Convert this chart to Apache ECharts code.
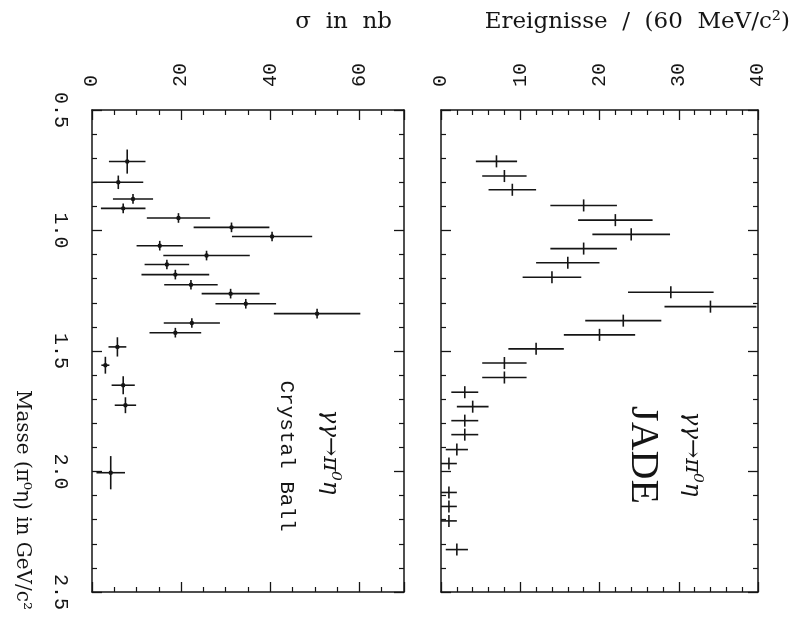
<!DOCTYPE html>
<html>
<head>
<meta charset="utf-8">
<script src="https://cdn.jsdelivr.net/npm/echarts@6/dist/echarts.min.js"></script>
<style>
  html, body { margin: 0; padding: 0; background: #fff; }
  #chart { width: 797px; height: 617px; }
</style>
</head>
<body>
<div id="chart"></div>
<script>
// Crystal Ball: cross section of γγ → π⁰η in nb versus π⁰η mass (GeV/c²)
const cbMass      = [0.714, 0.800, 0.869, 0.908, 0.948, 0.987, 1.025, 1.063, 1.104, 1.141, 1.183,
                     1.225, 1.262, 1.304, 1.345, 1.384, 1.424, 1.483, 1.559, 1.642, 1.725, 2.005];
const cbSigma     = [7.9, 5.9, 9.2, 7.0, 19.4, 31.3, 40.4, 15.2, 25.7, 16.8, 18.7,
                     22.2, 31.1, 34.5, 50.5, 22.4, 18.7, 5.7, 3.0, 7.0, 7.5, 4.2];
const cbSigmaErr  = [4.1, 5.6, 4.5, 5.0, 7.1, 8.5, 9.0, 5.2, 9.7, 5.0, 7.6,
                     6.0, 6.5, 6.8, 9.7, 6.3, 5.8, 2.0, 0.9, 2.6, 2.4, 3.2];
const cbMassErr   = [0.050, 0.028, 0.020, 0.020, 0.020, 0.020, 0.020, 0.020, 0.020, 0.020, 0.020,
                     0.020, 0.020, 0.020, 0.020, 0.020, 0.020, 0.040, 0.035, 0.037, 0.033, 0.069];

// JADE: events per 60 MeV/c² bin
const jadeMass    = [0.713, 0.774, 0.831, 0.896, 0.957, 1.016, 1.075, 1.134, 1.194, 1.256, 1.316,
                     1.374, 1.433, 1.491, 1.550, 1.610, 1.671, 1.731, 1.789, 1.847, 1.909, 1.967,
                     2.087, 2.145, 2.205, 2.324];
const jadeCounts  = [7, 8, 9, 18, 22, 24, 18, 16, 14, 29, 34,
                     23, 20, 12, 8, 8, 3, 4, 3, 3, 2, 1,
                     1, 1, 1, 2];
const jadeCountErr= [2.6, 2.8, 3.0, 4.2, 4.7, 4.9, 4.2, 4.0, 3.7, 5.4, 5.8,
                     4.8, 4.5, 3.5, 2.8, 2.8, 1.7, 2.0, 1.7, 1.7, 1.4, 1.0,
                     1.0, 1.0, 1.0, 1.4];
const jadeMassErr = [0.025, 0.025, 0.025, 0.025, 0.025, 0.025, 0.025, 0.025, 0.025, 0.025, 0.025,
                     0.025, 0.025, 0.025, 0.025, 0.025, 0.025, 0.025, 0.025, 0.025, 0.025, 0.025,
                     0.025, 0.025, 0.025, 0.025];

// tick labels
const massTicks = [0.5, 1.0, 1.5, 2.0, 2.5];
const cbTicks   = [0, 20, 40, 60];
const jadeTicks = [0, 10, 20, 30, 40];

const INK = '#151515';
const tickFont = { fontFamily: 'Liberation Mono', fontSize: 20, color: INK };

function rows(mass, val, dm, dv) {
  return mass.map((m, i) => [m, val[i], dm[i], dv[i]]);
}

// cross-shaped error bars: horizontal = value error, vertical = mass bin
function errorCross(withDot) {
  return function (params, api) {
    const m = api.value(0), v = api.value(1), dm = api.value(2), dv = api.value(3);
    const c = api.coord([v, m]);
    const l = api.coord([v - dv, m]);
    const r = api.coord([v + dv, m]);
    const t = api.coord([v, m - dm]);
    const b = api.coord([v, m + dm]);
    const style = { stroke: INK, lineWidth: 1.6 };
    const children = [
      { type: 'line', shape: { x1: l[0], y1: l[1], x2: r[0], y2: r[1] }, style: style },
      { type: 'line', shape: { x1: t[0], y1: t[1], x2: b[0], y2: b[1] }, style: style }
    ];
    if (withDot) {
      children.push({ type: 'circle', shape: { cx: c[0], cy: c[1], r: 2.2 }, style: { fill: INK } });
    }
    return { type: 'group', children: children };
  };
}

function valueAxis(grid, pos, max, interval, split, labels) {
  return {
    type: 'value', gridIndex: grid, position: pos, min: 0, max: max, interval: interval,
    axisLine: { show: true, onZero: false, lineStyle: { color: INK, width: 1.5 } },
    axisTick: { show: true, inside: true, length: 10, lineStyle: { color: INK, width: 1.3 } },
    minorTick: { show: true, splitNumber: split, length: 5, lineStyle: { color: INK, width: 1.2 } },
    splitLine: { show: false },
    axisLabel: labels ? Object.assign({
      show: true, rotate: -90, margin: 23, customValues: labels
    }, tickFont) : { show: false }
  };
}

function massAxis(grid, pos, labels) {
  return {
    type: 'value', gridIndex: grid, position: pos, min: 0.5, max: 2.5, interval: 0.5, inverse: true,
    axisLine: { show: true, onZero: false, lineStyle: { color: INK, width: 1.5 } },
    axisTick: { show: true, inside: true, length: 10, lineStyle: { color: INK, width: 1.3 } },
    minorTick: { show: true, splitNumber: 5, length: 5, lineStyle: { color: INK, width: 1.2 } },
    splitLine: { show: false },
    axisLabel: labels ? Object.assign({
      show: true, rotate: -90, margin: 22, customValues: labels,
      formatter: v => v.toFixed(1)
    }, tickFont) : { show: false }
  };
}

const chart = echarts.init(document.getElementById('chart'), null, { renderer: 'canvas' });

const SERIF = '"DejaVu Serif"';

function rotText(x, y, text, font, align) {
  return {
    type: 'text', x: x, y: y, rotation: -Math.PI / 2,
    style: Object.assign({
      text: text, align: align || 'center', verticalAlign: 'middle', fill: INK
    }, font)
  };
}

chart.setOption({
  animation: false,
  backgroundColor: '#fff',
  grid: [
    { left: 92, top: 110, width: 312, height: 482 },
    { left: 441, top: 110, width: 317, height: 482 }
  ],
  xAxis: [
    valueAxis(0, 'top', 70, 20, 4, cbTicks),
    valueAxis(0, 'bottom', 70, 20, 4, null),
    valueAxis(1, 'top', 40, 10, 5, jadeTicks),
    valueAxis(1, 'bottom', 40, 10, 5, null)
  ],
  yAxis: [
    massAxis(0, 'left', massTicks),
    massAxis(0, 'right', null),
    massAxis(1, 'left', null),
    massAxis(1, 'right', null)
  ],
  series: [
    {
      type: 'custom', name: 'Crystal Ball', xAxisIndex: 0, yAxisIndex: 0, clip: true,
      renderItem: errorCross(true),
      encode: { x: 1, y: 0 },
      data: rows(cbMass, cbSigma, cbMassErr, cbSigmaErr)
    },
    {
      type: 'custom', name: 'JADE', xAxisIndex: 2, yAxisIndex: 2, clip: true,
      renderItem: errorCross(false),
      encode: { x: 1, y: 0 },
      data: rows(jadeMass, jadeCounts, jadeMassErr, jadeCountErr)
    }
  ],
  graphic: [
    // value-axis titles
    {
      type: 'text', x: 392, y: 22,
      style: {
        text: 'σ  in  nb', align: 'right', verticalAlign: 'middle', fill: INK,
        font: '23px ' + SERIF
      }
    },
    {
      type: 'text', x: 790, y: 22,
      style: {
        text: 'Ereignisse  /  (60  MeV/c²)', align: 'right', verticalAlign: 'middle', fill: INK,
        font: '23px ' + SERIF
      }
    },
    // mass-axis title
    rotText(22, 610, 'Masse (π⁰η) in GeV/c²', { font: '20px ' + SERIF }, 'right'),
    // panel annotations
    rotText(330, 452, 'γγ→π⁰η', { font: 'italic 23px ' + SERIF }),
    rotText(287, 456, 'Crystal Ball', { font: '21px "Liberation Mono"' }),
    rotText(692, 454, 'γγ→π⁰η', { font: 'italic 23px ' + SERIF }),
    rotText(642, 455, 'JADE', { font: '40px "Liberation Serif"' })
  ]
});
</script>
</body>
</html>
